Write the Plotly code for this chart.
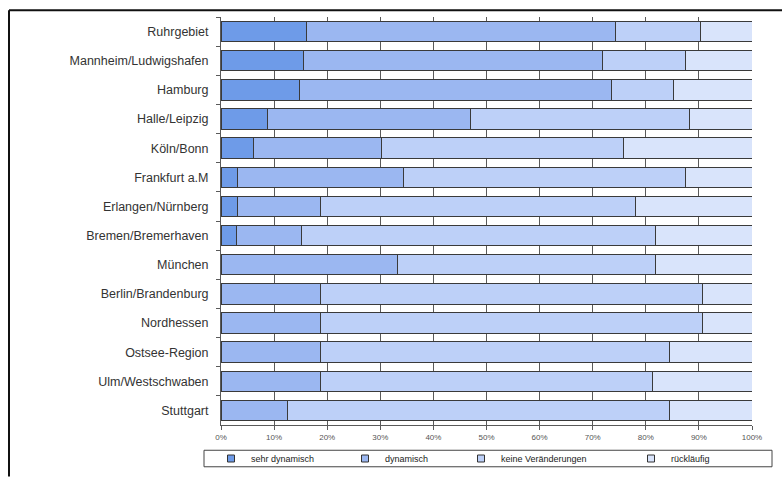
import plotly.graph_objects as go

categories = ["Ruhrgebiet", "Mannheim/Ludwigshafen", "Hamburg", "Halle/Leipzig",
              "Köln/Bonn", "Frankfurt a.M", "Erlangen/Nürnberg", "Bremen/Bremerhaven",
              "München", "Berlin/Brandenburg", "Nordhessen", "Ostsee-Region",
              "Ulm/Westschwaben", "Stuttgart"]
sehr_dynamisch = [16.1, 15.6, 14.7, 8.8, 6.1, 3.1, 3.1, 3.0, 0, 0, 0, 0, 0, 0]
dynamisch = [58.1, 56.3, 58.8, 38.2, 24.2, 31.3, 15.6, 12.1, 33.3, 18.75, 18.75, 18.75, 18.75, 12.5]
keine_veraenderungen = [16.1, 15.6, 11.8, 41.2, 45.5, 53.1, 59.4, 66.7, 48.5, 71.85, 71.85, 65.65, 62.5, 71.9]
ruecklaeufig = [9.7, 12.5, 14.7, 11.8, 24.2, 12.5, 21.9, 18.2, 18.2, 9.4, 9.4, 15.6, 18.75, 15.6]

series_names = ["sehr dynamisch", "dynamisch", "keine Veränderungen", "rückläufig"]
series_values = [sehr_dynamisch, dynamisch, keine_veraenderungen, ruecklaeufig]
colors = ["#6e9be8", "#9bb7f1", "#bdd0f8", "#d9e4fb"]
tick_values = list(range(0, 101, 10))
tick_labels = [f"{v}%" for v in tick_values]

W, H = 783, 485
L, R, T, B = 221, 752, 17, 437
pw, ph = R - L, B - T

def px(x):
    return (x - L) / pw

def py(y):
    return (B - y) / ph

legend_names = ["legend", "legend2", "legend3", "legend4"]
legend_text_x = [253, 387, 503, 673]

fig = go.Figure()
for name, vals, col in zip(series_names, series_values, colors):
    fig.add_trace(go.Bar(
        y=categories, x=[v if v > 0 else None for v in vals], name=name,
        orientation="h", showlegend=False,
        marker=dict(color=col, line=dict(color="#3a3a3a", width=1)),
    ))
# legend keys (small bordered squares like the original)
for name, col, lg in zip(series_names, colors, legend_names):
    fig.add_trace(go.Scatter(
        x=[None], y=[None], mode="markers", name=name, legend=lg, showlegend=True,
        marker=dict(symbol="square", size=7, color=col, line=dict(color="#333", width=1)),
    ))

layout_legends = {}
for lg, tx in zip(legend_names, legend_text_x):
    layout_legends[lg] = dict(
        x=px(tx - 42), y=py(471.5), xanchor="left", yanchor="middle",
        orientation="h", bgcolor="rgba(0,0,0,0)", borderwidth=0,
        font=dict(family="Arial, Liberation Sans", size=9, color="#222"),
    )

fig.update_layout(
    width=W, height=H,
    margin=dict(l=L, r=W - R, t=T, b=H - B, pad=0),
    barmode="stack", bargap=0.3, showlegend=True,
    plot_bgcolor="white", paper_bgcolor="white",
    font=dict(family="Arial, Liberation Sans", color="#333"),
    **layout_legends,
)
fig.update_xaxes(
    range=[0, 100], tickvals=tick_values, ticktext=tick_labels,
    showgrid=True, gridcolor="#5a5a5a", gridwidth=1,
    showline=True, linecolor="#5a5a5a", linewidth=1,
    ticks="outside", ticklen=4, tickcolor="#5a5a5a",
    tickfont=dict(size=8, color="#555"), zeroline=False,
)
fig.update_yaxes(
    autorange="reversed", showline=True, linecolor="#5a5a5a", linewidth=1,
    ticks="outside", ticklen=4, tickcolor="#5a5a5a", tickson="boundaries",
    tickfont=dict(size=12.5, color="#333"), ticklabelstandoff=9, showgrid=False,
)

# legend frame
fig.add_shape(type="rect", xref="paper", yref="paper",
              x0=px(204), x1=px(772), y0=py(480), y1=py(463),
              line=dict(color="#444", width=1), fillcolor="rgba(0,0,0,0)", layer="below")
# outer chart frame (top and left edges)
fig.add_shape(type="line", xref="paper", yref="paper",
              x0=px(9), x1=px(782), y0=py(10), y1=py(10),
              line=dict(color="#111", width=2))
fig.add_shape(type="line", xref="paper", yref="paper",
              x0=px(9), x1=px(9), y0=py(10), y1=py(490),
              line=dict(color="#111", width=2))

fig.write_html("out.html")
